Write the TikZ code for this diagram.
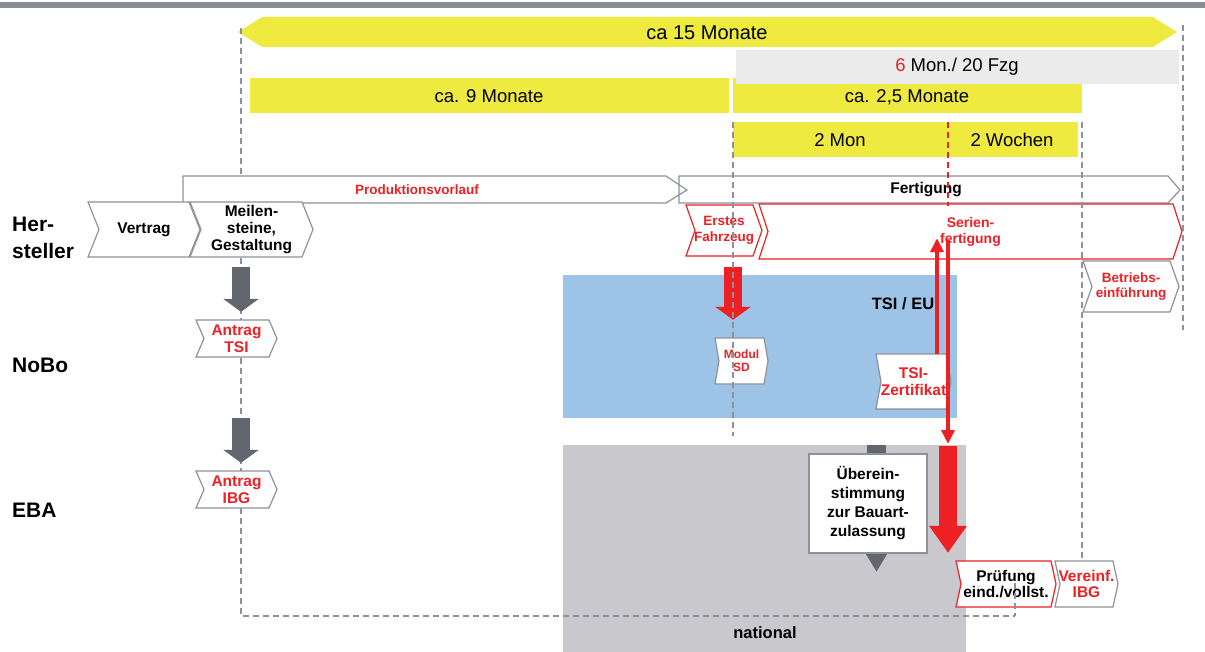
\documentclass[tikz,border=0pt]{standalone}
\usepackage{fontspec}
\setmainfont{Liberation Sans}
\usetikzlibrary{arrows.meta,calc}
\definecolor{cyellow}{RGB}{238,234,64}
\definecolor{clgray}{RGB}{235,235,235}
\definecolor{cblue}{RGB}{157,195,230}
\definecolor{cnat}{RGB}{200,200,205}
\definecolor{cgray}{RGB}{142,145,155}
\definecolor{cdark}{RGB}{99,102,111}
\definecolor{cred}{RGB}{237,32,36}
\definecolor{ctop}{RGB}{138,141,150}
% #1 name, #2 x left, #3 x tip, #4 y top, #5 y bottom, #6 notch depth, #7 line style, #8 text style, #9 text
\newcommand\mkchev[9]{%
  \filldraw[chevline,#7] (#2,#4) -- ({#3-#6},#4) -- (#3,{(#4+#5)/2}) -- ({#3-#6},#5) -- (#2,#5) -- ({#2+#6},{(#4+#5)/2}) -- cycle;
  \node[chevtext,#8,minimum width={(#3-#2)*1pt},minimum height={(#5-#4)*1pt}] (#1) at ({(#2+#3)/2},{(#4+#5)/2}) {#9};
}
\begin{document}
\begin{tikzpicture}[x=1pt,y=-1pt,
  chevline/.style={fill=white,draw=cgray,line width=1.2pt,line join=miter},
  chevtext/.style={inner sep=0pt,align=center},
  redline/.style={draw=cred},
  gdash/.style={cgray,line width=1.3pt,dash pattern=on 6pt off 4pt},
  rdash/.style={cred,line width=1.3pt,dash pattern=on 6pt off 4pt},
  bigtxt/.style={font=\fontsize{20}{22}\selectfont},
  midtxt/.style={font=\fontsize{18.5}{20}\selectfont},
  bf155/.style={font=\bfseries\fontsize{15.5}{16.8}\selectfont},
  bf14/.style={font=\bfseries\fontsize{14}{16}\selectfont},
  bf135/.style={font=\bfseries\fontsize{13.5}{15.8}\selectfont},
  bf12/.style={font=\bfseries\fontsize{12}{13}\selectfont},
  rowlbl/.style={font=\bfseries\fontsize{21}{27}\selectfont,inner sep=0pt,align=left},
  blockgray/.style={cdark,line width=18pt,-{Triangle[width=35pt,length=13pt]}},
  blockred/.style={cred,line width=18pt,-{Triangle[width=35pt,length=13pt]}},
  thinred/.style={cred,line width=4pt,-{Triangle[width=13pt,length=14pt]}},
]
\useasboundingbox (0,0) rectangle (1205,652);
% top bar
\fill[ctop] (0,2) rectangle (1205,8);
% timeline bars
\fill[cyellow] (238,32) -- (262,17) -- (1153,17) -- (1177,32) -- (1153,47) -- (262,47) -- cycle;
\node[bigtxt] (t15) at (707,33) {ca 15 Monate};
\fill[cyellow] (250,78) rectangle (729,113);
\node[midtxt] (t9) at (489,96) {ca. 9 Monate};
\fill[cyellow] (733,78) rectangle (1082,113);
\fill[clgray] (736,50) rectangle (1179,84);
\node[midtxt] (t6) at (957,67) {{\color{cred}6} Mon./ 20 Fzg};
\node[midtxt] (t25) at (907,97) {ca. 2,5 Monate};
\fill[cyellow] (733,122) rectangle (1078,157);
\node[midtxt] (t2m) at (840,140) {2 Mon};
\node[midtxt] (t2w) at (1012,140) {2 Wochen};
% regions
\node[fill=cblue,inner sep=0pt,minimum width=394pt,minimum height=143pt,anchor=north west] (tsibox) at (563,275) {};
\node[fill=cnat,inner sep=0pt,minimum width=403pt,minimum height=207pt,anchor=north west] (natbox) at (563,445) {};
\coordinate (axA) at (241,0);
\coordinate (axB) at (733,0);
\coordinate (axC) at (937,0);
\coordinate (axD) at (948,0);
\coordinate (axE) at (876.5,0);
% left guide
\draw[gdash] (241,28) -- (241,616) -- (1015,616);
% phase bars
\filldraw[chevline] (183,176) -- (666,176) -- (687,190) -- (666,203) -- (183,203) -- cycle;
\node[bf135,text=cred] (pv) at (417,190) {Produktionsvorlauf};
\draw[chevline,fill=none] (679,176) -- (1168,176) -- (1180,190) -- (1168,203) -- (679,203) -- cycle;
\node[bf155] (fert) at (926,190) {Fertigung};
% chevrons
\mkchev{vertrag}{88}{200}{202}{257}{11}{}{bf155}{Vertrag}
\mkchev{meil}{190}{313}{202}{257}{11}{}{bf155}{Meilen-\\steine,\\Gestaltung}
\mkchev{erstes}{686}{762}{205}{256}{9}{redline}{bf135,text=cred}{Erstes\\Fahrzeug}
\mkchev{serien}{759}{1182}{204}{259}{9}{redline}{bf14,text=cred}{Serien-\\fertigung}
\mkchev{betr}{1083}{1179}{261}{312}{9}{}{bf135,text=cred}{Betriebs-\\einführung}
\mkchev{antsi}{196}{277}{320}{357}{8}{}{bf155,text=cred}{Antrag\\TSI}
\mkchev{anibg}{196}{277}{471}{508}{8}{}{bf155,text=cred}{Antrag\\IBG}
\mkchev{modsd}{715}{768}{338}{384}{4}{}{bf12,text=cred}{Modul\\SD}
\mkchev{tsiz}{876}{951}{354}{409}{5}{}{bf155,text=cred}{TSI-\\Zertifikat}
\mkchev{pruef}{956}{1056}{561}{607}{5}{redline}{bf155}{Prüfung\\eind./vollst.}
\mkchev{vibg}{1055}{1118}{561}{607}{5}{}{bf155,text=cred}{Vereinf.\\IBG}
% Uebereinstimmung
\node[draw=cgray,fill=white,line width=1.2pt,minimum width=118pt,minimum height=99pt,inner sep=0pt,align=center,bf155,font=\bfseries\fontsize{15.5}{19}\selectfont] (ueb) at (868,503.5) {Überein-\\stimmung\\zur Bauart-\\zulassung};
\fill[cdark] ($(natbox.north -| axE)+(-9.5,0)$) rectangle ($(ueb.north -| axE)+(9.5,-0.6)$);
\fill[cdark] ($(ueb.south -| axE)+(-10.5,0.6)$) -- ($(ueb.south -| axE)+(10.5,0.6)$) -- ($(ueb.south -| axE)+(0,18)$) -- cycle;
% arrows
\draw[blockgray] ($(meil.south -| axA)+(0,10)$) -- ($(antsi.north -| axA)+(0,-8)$);
\draw[blockgray] ($(antsi.south -| axA)+(0,61)$) -- ($(anibg.north -| axA)+(0,-8)$);
\draw[blockred] ($(erstes.south -| axB)+(0,11)$) -- ($(modsd.north -| axB)+(0,-18)$);
\draw[thinred] (tsiz.north -| axC) -- ($(serien.south -| axC)+(0,-21)$);
\draw[thinred] ($(serien.south -| axD)+(0,-19)$) -- ($(natbox.north -| axD)+(0,-1)$);
\draw[cred,line width=18pt,-{Triangle[width=36pt,length=27pt]}] ($(natbox.north -| axD)+(0,1)$) -- ($(pruef.north -| axD)+(0,-8)$);
% guides on top
\draw[gdash] (733,122) -- (733,436);
\draw[gdash] (1082,122) -- (1082,560);
\draw[gdash] (1183,25) -- (1183,330);
\draw[gdash] (1015,583) -- (1015,616);
\draw[rdash] (948,122) -- (948,206);
% labels
\node[rowlbl,anchor=west] (hers) at (12,238) {Her-\\steller};
\node[rowlbl,anchor=base west] (nobo) at (12,373) {NoBo};
\node[rowlbl,anchor=base west] (eba) at (12,517) {EBA};
\node[font=\bfseries\fontsize{16.5}{18}\selectfont] (tsieu) at (903,304) {TSI / EU};
\node[font=\bfseries\fontsize{16.5}{18}\selectfont] (nat) at (765,633) {national};
\end{tikzpicture}
\end{document}
